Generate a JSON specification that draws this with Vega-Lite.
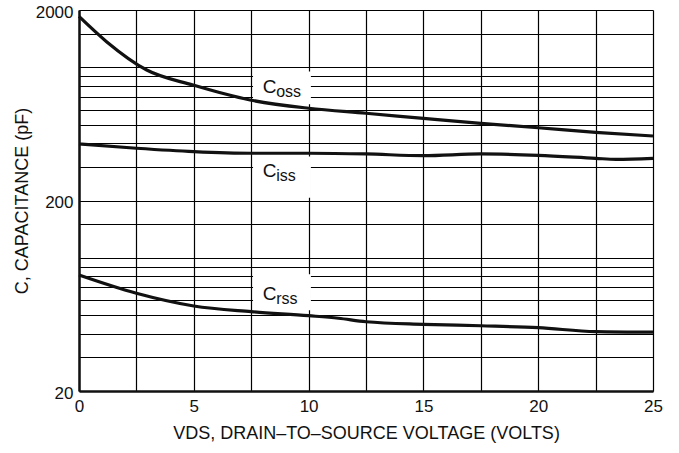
{
  "$schema": "https://vega.github.io/schema/vega-lite/v6.json",
  "width": 574,
  "height": 381,
  "autosize": {"type": "none"},
  "padding": {"left": 79, "top": 10, "right": 26, "bottom": 62},
  "background": "white",
  "config": {"view": {"stroke": null}, "font": "Liberation Sans"},
  "datasets": {
    "curves": [
      {"series": "Coss", "V": 0, "C": 1850},
      {"series": "Coss", "V": 1.2, "C": 1364},
      {"series": "Coss", "V": 2.95, "C": 968},
      {"series": "Coss", "V": 4.97, "C": 807},
      {"series": "Coss", "V": 7.45, "C": 674},
      {"series": "Coss", "V": 10, "C": 610},
      {"series": "Coss", "V": 12.5, "C": 574},
      {"series": "Coss", "V": 15, "C": 540},
      {"series": "Coss", "V": 17.5, "C": 508},
      {"series": "Coss", "V": 20, "C": 482},
      {"series": "Coss", "V": 22.5, "C": 456},
      {"series": "Coss", "V": 25, "C": 436},
      {"series": "Ciss", "V": 0, "C": 396},
      {"series": "Ciss", "V": 2.5, "C": 376},
      {"series": "Ciss", "V": 5, "C": 361},
      {"series": "Ciss", "V": 7.5, "C": 354},
      {"series": "Ciss", "V": 10, "C": 354},
      {"series": "Ciss", "V": 12.5, "C": 351},
      {"series": "Ciss", "V": 15, "C": 344},
      {"series": "Ciss", "V": 17.5, "C": 351},
      {"series": "Ciss", "V": 20, "C": 345},
      {"series": "Ciss", "V": 22.5, "C": 333},
      {"series": "Ciss", "V": 23.4, "C": 329},
      {"series": "Ciss", "V": 25, "C": 333},
      {"series": "Crss", "V": 0, "C": 81.3},
      {"series": "Crss", "V": 2.5, "C": 65.2},
      {"series": "Crss", "V": 5, "C": 55.9},
      {"series": "Crss", "V": 7.5, "C": 52.2},
      {"series": "Crss", "V": 10, "C": 49.7},
      {"series": "Crss", "V": 11.3, "C": 48.2},
      {"series": "Crss", "V": 12.5, "C": 46.2},
      {"series": "Crss", "V": 15, "C": 44.8},
      {"series": "Crss", "V": 17.5, "C": 44.0},
      {"series": "Crss", "V": 20, "C": 43.0},
      {"series": "Crss", "V": 22.5, "C": 41.0},
      {"series": "Crss", "V": 25, "C": 40.7}
    ],
    "labels": [
      {"series": "Coss", "V": 8.0, "C": 733, "main": "C", "sub": "oss"},
      {"series": "Ciss", "V": 8.0, "C": 266, "main": "C", "sub": "iss"},
      {"series": "Crss", "V": 8.0, "C": 60.1, "main": "C", "sub": "rss"}
    ],
    "boxes": [
      {"series": "Coss", "v1": 7.58, "v2": 10.1, "c1": 950, "c2": 640},
      {"series": "Ciss", "v1": 7.58, "v2": 10.1, "c1": 340, "c2": 207},
      {"series": "Crss", "v1": 7.58, "v2": 10.1, "c1": 82, "c2": 53}
    ]
  },
  "layer": [
    {
      "data": {"name": "boxes"},
      "mark": {"type": "rect", "fill": "white", "strokeWidth": 0},
      "encoding": {
        "x": {
          "field": "v1", "type": "quantitative",
          "scale": {"domain": [0, 25], "nice": false, "zero": false},
          "axis": {
            "values": [0, 2.5, 5, 7.5, 10, 12.5, 15, 17.5, 20, 22.5, 25],
            "labelExpr": "datum.value % 5 == 0 ? datum.label : ''",
            "ticks": false,
            "grid": true,
            "gridColor": "#000000",
            "gridWidth": 1.2,
            "gridOpacity": 1,
            "domainColor": "#111111",
            "domainWidth": 2.5,
            "labelFontSize": 17,
            "labelColor": "#111111",
            "labelPadding": 7,
            "labelFlush": false,
            "labelOverlap": false,
            "title": "VDS, DRAIN–TO–SOURCE VOLTAGE (VOLTS)",
            "titleFontSize": 18,
            "titleFontWeight": "normal",
            "titleColor": "#111111",
            "titlePadding": 10
          }
        },
        "x2": {"field": "v2"},
        "y": {
          "field": "c1", "type": "quantitative",
          "scale": {"type": "log", "domain": [20, 2000], "nice": false},
          "axis": {
            "values": [20, 30, 40, 50, 60, 70, 80, 90, 100, 150, 200, 300, 400, 500, 600, 700, 800, 900, 1000, 1500, 2000],
            "format": "d",
            "labelExpr": "datum.value == 20 || datum.value == 200 || datum.value == 2000 ? datum.label : ''",
            "ticks": false,
            "grid": true,
            "gridColor": "#000000",
            "gridWidth": 1.2,
            "gridOpacity": 1,
            "domainColor": "#111111",
            "domainWidth": 2.5,
            "labelFontSize": 17,
            "labelColor": "#111111",
            "labelPadding": 6,
            "labelOffset": 2,
            "labelFlush": false,
            "labelOverlap": false,
            "title": "C, CAPACITANCE (pF)",
            "titleFontSize": 18,
            "titleFontWeight": "normal",
            "titleColor": "#111111",
            "titlePadding": 4
          }
        },
        "y2": {"field": "c2"}
      }
    },
    {
      "data": {"name": "curves"},
      "mark": {"type": "line", "color": "#111111", "strokeWidth": 3.2, "interpolate": "monotone"},
      "encoding": {
        "x": {"field": "V", "type": "quantitative"},
        "y": {"field": "C", "type": "quantitative"},
        "detail": {"field": "series"}
      }
    },
    {
      "data": {"name": "labels"},
      "mark": {"type": "text", "align": "left", "baseline": "alphabetic", "fontSize": 19, "color": "#111111"},
      "encoding": {
        "x": {"field": "V", "type": "quantitative"},
        "y": {"field": "C", "type": "quantitative"},
        "text": {"field": "main"}
      }
    },
    {
      "data": {"name": "labels"},
      "mark": {"type": "text", "align": "left", "baseline": "alphabetic", "fontSize": 16, "dx": 13.5, "dy": 4, "color": "#111111"},
      "encoding": {
        "x": {"field": "V", "type": "quantitative"},
        "y": {"field": "C", "type": "quantitative"},
        "text": {"field": "sub"}
      }
    }
  ]
}
